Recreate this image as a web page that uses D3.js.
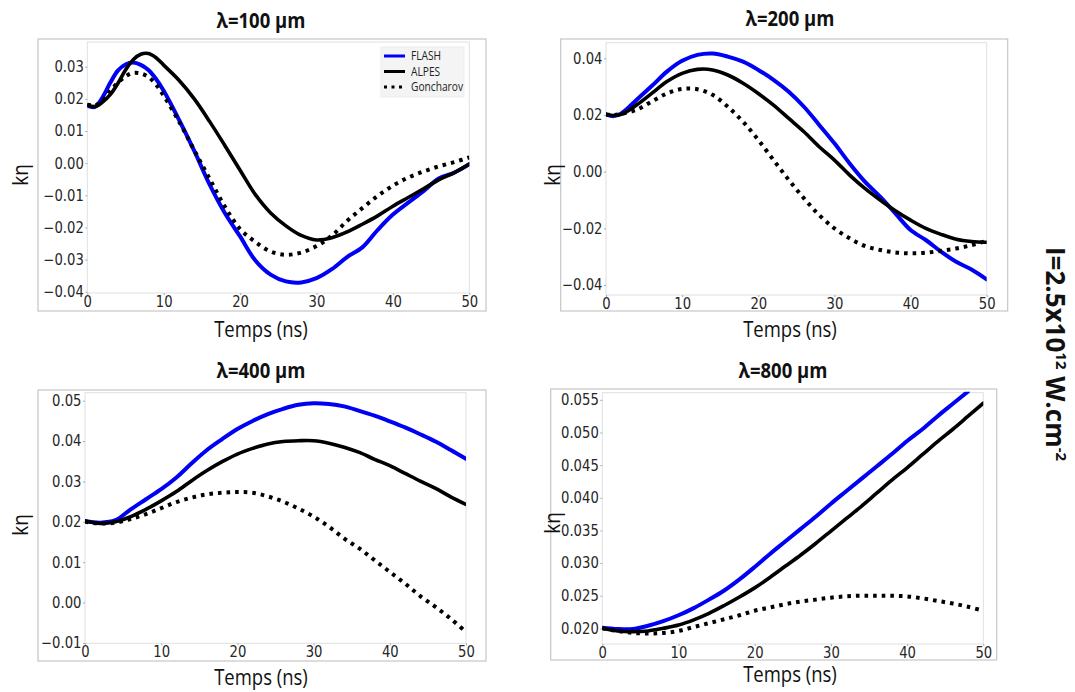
<!DOCTYPE html>
<html><head><meta charset="utf-8">
<script src="https://cdn.jsdelivr.net/npm/d3@7/dist/d3.min.js"></script>
<style>
body{margin:0;background:#fff;}
svg{display:block;}
</style></head>
<body>
<svg id="chart" width="1075" height="692"></svg>
<script>
// ---------- data ----------
const seriesNames = ["FLASH", "ALPES", "Goncharov"];
const xTicks = [0, 10, 20, 30, 40, 50];

const t100 = [0,1,2,3,4,5,6,7,8,9,10,12,14,16,18,20,22,24,26,28,30,32,34,36,38,40,42,44,46,48,50];
const flash100 = [0.0179,0.0175,0.0205,0.0250,0.0288,0.0307,0.0313,0.0306,0.0290,0.0262,0.0225,0.0135,0.0038,-0.0066,-0.0155,-0.0228,-0.0303,-0.0347,-0.0368,-0.0371,-0.0358,-0.0330,-0.0292,-0.0262,-0.0208,-0.0160,-0.0123,-0.0087,-0.0048,-0.0030,-0.0003];
const alpes100 = [0.0181,0.0176,0.0190,0.0213,0.0248,0.0290,0.0322,0.0339,0.0341,0.0328,0.0305,0.0258,0.0200,0.0130,0.0055,-0.0022,-0.0098,-0.0155,-0.0195,-0.0225,-0.0239,-0.0232,-0.0214,-0.0190,-0.0164,-0.0134,-0.0107,-0.0080,-0.0052,-0.0030,-0.0003];
const gonch100 = [0.0182,0.0180,0.0195,0.0225,0.0250,0.0270,0.0281,0.0279,0.0268,0.0244,0.0210,0.0130,0.0040,-0.0048,-0.0135,-0.0205,-0.0245,-0.0275,-0.0285,-0.0278,-0.0258,-0.0226,-0.0180,-0.0140,-0.0102,-0.0070,-0.0045,-0.0026,-0.0010,0.0003,0.0018];
const yTicks100 = [0.03,0.02,0.01,0.00,-0.01,-0.02,-0.03,-0.04];

const t200 = [0,1,2,4,6,8,10,12,14,16,18,20,22,24,26,28,30,32,34,36,38,40,42,44,46,48,50];
const flash200 = [0.0202,0.0196,0.0205,0.0253,0.0302,0.0353,0.0391,0.0412,0.0417,0.0406,0.0388,0.0359,0.0324,0.0282,0.0229,0.0165,0.0100,0.0029,-0.0035,-0.0088,-0.0147,-0.0206,-0.0241,-0.0282,-0.0318,-0.0345,-0.0380];
const alpes200 = [0.0202,0.0198,0.0202,0.0235,0.0276,0.0318,0.0347,0.0361,0.0359,0.0341,0.0312,0.0276,0.0235,0.0188,0.0141,0.0088,0.0041,-0.0012,-0.0059,-0.0100,-0.0138,-0.0171,-0.0200,-0.0221,-0.0238,-0.0246,-0.0249];
const gonch200 = [0.0202,0.0200,0.0204,0.0218,0.0247,0.0276,0.0292,0.0291,0.0271,0.0229,0.0176,0.0112,0.0041,-0.0029,-0.0094,-0.0153,-0.0200,-0.0235,-0.0262,-0.0276,-0.0285,-0.0288,-0.0286,-0.0279,-0.0271,-0.0259,-0.0244];
const yTicks200 = [0.04,0.02,0.00,-0.02,-0.04];

const t400 = [0,2,4,6,8,10,12,14,16,18,20,22,24,26,28,30,32,34,36,38,40,42,44,46,48,50];
const flash400 = [0.0202,0.0198,0.0204,0.0231,0.0256,0.0281,0.0310,0.0345,0.0378,0.0405,0.0430,0.0450,0.0467,0.0480,0.0490,0.0494,0.0492,0.0486,0.0475,0.0463,0.0449,0.0434,0.0417,0.0399,0.0378,0.0356];
const alpes400 = [0.0202,0.0196,0.0200,0.0213,0.0231,0.0252,0.0275,0.0302,0.0327,0.0349,0.0368,0.0382,0.0393,0.0399,0.0401,0.0401,0.0395,0.0385,0.0372,0.0355,0.0339,0.0320,0.0301,0.0283,0.0262,0.0243];
const gonch400 = [0.0200,0.0196,0.0198,0.0207,0.0219,0.0234,0.0249,0.0260,0.0268,0.0272,0.0274,0.0272,0.0263,0.0250,0.0233,0.0213,0.0188,0.0159,0.0134,0.0105,0.0076,0.0047,0.0016,-0.0011,-0.0040,-0.0073];
const yTicks400 = [0.05,0.04,0.03,0.02,0.01,0.00,-0.01];

const t800 = [0,2,4,6,8,10,12,14,16,18,20,22,24,26,28,30,32,34,36,38,40,42,44,46,48,50];
const flash800 = [0.0201,0.0199,0.0199,0.0204,0.0211,0.0220,0.0231,0.0244,0.0258,0.0275,0.0294,0.0314,0.0333,0.0352,0.0371,0.0391,0.0410,0.0429,0.0448,0.0467,0.0487,0.0505,0.0525,0.0544,0.0563,null];
const alpes800 = [0.0200,0.0196,0.0195,0.0196,0.0200,0.0205,0.0213,0.0223,0.0235,0.0248,0.0262,0.0278,0.0295,0.0312,0.0330,0.0349,0.0368,0.0387,0.0407,0.0427,0.0446,0.0466,0.0486,0.0505,0.0525,0.0545];
const gonch800 = [0.0200,0.0196,0.0193,0.0192,0.0193,0.0196,0.0202,0.0208,0.0214,0.0220,0.0227,0.0232,0.0237,0.0241,0.0244,0.0247,0.0249,0.0250,0.0250,0.0250,0.0249,0.0246,0.0242,0.0238,0.0233,0.0227];
const yTicks800 = [0.055,0.050,0.045,0.040,0.035,0.030,0.025,0.020];

const titles = ["λ=100 µm", "λ=200 µm", "λ=400 µm", "λ=800 µm"];

// ---------- layout ----------
const panels = [
  {title: titles[0], t: t100, s: [flash100, alpes100, gonch100], yt: yTicks100, fmt: ".2f",
   frame: [38, 39, 486, 311], px: [87.3, 469.3], py: [42, 293], ydom: [0.0377, -0.0404],
   titlePos: [261, 28], xlabPos: [261, 337], ylabPos: [20, 175], legend: true},
  {title: titles[1], t: t200, s: [flash200, alpes200, gonch200], yt: yTicks200, fmt: ".2f",
   frame: [560.7, 39, 1007.7, 311], px: [606, 986.7], py: [42.7, 295], ydom: [0.0455, -0.0435],
   titlePos: [790, 26], xlabPos: [790, 337], ylabPos: [552, 175]},
  {title: titles[2], t: t400, s: [flash400, alpes400, gonch400], yt: yTicks400, fmt: ".2f",
   frame: [38, 390, 486, 661], px: [85, 466], py: [392.7, 643.3], ydom: [0.0520, -0.0101],
   titlePos: [261, 378], xlabPos: [261, 685], ylabPos: [20, 525]},
  {title: titles[3], t: t800, s: [flash800, alpes800, gonch800], yt: yTicks800, fmt: ".3f",
   frame: [550.7, 389, 996.7, 660], px: [602.3, 983.3], py: [392.7, 644], ydom: [0.0561, 0.0176],
   titlePos: [783, 378], xlabPos: [790, 682], ylabPos: [552, 523]}
];

const colors = ["#0000f5", "#000000", "#000000"];
const widths = [4, 3.6, 4];
const dashes = [null, null, "3.6,5"];
const vStretch = 1.15;

const svg = d3.select("#chart");

panels.forEach((p, i) => {
  const g = svg.append("g");
  const [fx0, fy0, fx1, fy1] = p.frame;
  g.append("rect").attr("x", fx0).attr("y", fy0).attr("width", fx1 - fx0).attr("height", fy1 - fy0)
    .attr("fill", "#fff").attr("stroke", "#c6c6c6").attr("stroke-width", 1.2);

  const x = d3.scaleLinear().domain([0, 50]).range(p.px);
  const y = d3.scaleLinear().domain(p.ydom).range(p.py);

  // spines
  g.append("rect").attr("x", p.px[0]).attr("y", p.py[0])
    .attr("width", p.px[1] - p.px[0]).attr("height", p.py[1] - p.py[0])
    .attr("fill", "none").attr("stroke", "#e0e0e0").attr("stroke-width", 1);

  const yAxis = g.append("g").attr("transform", `translate(${p.px[0]},0)`)
    .call(d3.axisLeft(y).tickValues(p.yt).tickFormat(d3.format(p.fmt)).tickSize(2).tickPadding(1.5));
  const xAxis = g.append("g").attr("transform", `translate(0,${p.py[1]})`)
    .call(d3.axisBottom(x).tickValues(xTicks).tickFormat(d3.format("d")).tickSize(2).tickPadding(0.5));
  [yAxis, xAxis].forEach(a => {
    a.select(".domain").remove();
    a.selectAll(".tick line").attr("stroke", "#aaa");
    a.selectAll(".tick text").attr("fill", "#262626")
      .attr("transform", `scale(1,${vStretch})`)
      .style("font-family", "'DejaVu Sans', sans-serif").style("font-size", "13.2px");
  });

  const clipId = "clip" + i;
  g.append("clipPath").attr("id", clipId).append("rect")
    .attr("x", p.px[0]).attr("y", p.py[0] - 1).attr("width", p.px[1] - p.px[0]).attr("height", p.py[1] - p.py[0] + 2);

  const line = d3.line().defined(d => d[1] !== null)
    .x(d => x(d[0])).y(d => y(d[1])).curve(d3.curveCatmullRom.alpha(0.5));
  const cg = g.append("g").attr("clip-path", `url(#${clipId})`);
  p.s.forEach((vals, k) => {
    const pts = p.t.map((tv, j) => [tv, vals[j]]);
    const path = cg.append("path").datum(pts).attr("d", line)
      .attr("fill", "none").attr("stroke", colors[k]).attr("stroke-width", widths[k])
      .attr("stroke-linejoin", "round");
    if (dashes[k]) path.attr("stroke-dasharray", dashes[k]).attr("stroke-linecap", "butt");
    else path.attr("stroke-linecap", "round");
  });

  // titles
  g.append("text").attr("transform", `translate(${p.titlePos[0]},${p.titlePos[1]}) scale(1,${vStretch})`)
    .attr("text-anchor", "middle")
    .style("font-family", "'Open Sans', sans-serif").style("font-weight", "bold").style("font-size", "18.5px")
    .attr("fill", "#111").text(p.title);
  g.append("text").attr("transform", `translate(${p.xlabPos[0]},${p.xlabPos[1]}) scale(1,${vStretch})`)
    .attr("text-anchor", "middle")
    .style("font-family", "'Open Sans', sans-serif").style("font-size", "18.5px")
    .attr("fill", "#111").text("Temps (ns)");
  g.append("text").attr("transform", `translate(${p.ylabPos[0]},${p.ylabPos[1]}) rotate(-90) scale(1,${vStretch})`)
    .attr("text-anchor", "middle").attr("dy", "0.35em")
    .style("font-family", "'Open Sans', sans-serif").style("font-size", "19px")
    .attr("fill", "#111").text("kη");

  if (p.legend) {
    const lg = g.append("g");
    lg.append("rect").attr("x", 381).attr("y", 47).attr("width", 83).attr("height", 50)
      .attr("fill", "#f4f4f4").attr("stroke", "#ececec");
    seriesNames.forEach((name, k) => {
      const ly = 56 + k * 15.5;
      const l = lg.append("line").attr("x1", 384).attr("x2", 405).attr("y1", ly).attr("y2", ly)
        .attr("stroke", colors[k]).attr("stroke-width", 3);
      if (dashes[k]) l.attr("stroke-dasharray", "3,4.5");
      lg.append("text").attr("transform", `translate(411,${ly}) scale(1,${vStretch})`).attr("dy", "0.35em")
        .style("font-family", "'Open Sans', sans-serif").style("font-size", "10.2px")
        .attr("fill", "#222").text(name);
    });
  }
});

// side label
const side = svg.append("text").attr("transform", "translate(1046,354) rotate(90)")
  .attr("text-anchor", "middle")
  .style("font-family", "'Open Sans', sans-serif").style("font-weight", "bold").style("font-size", "26px")
  .attr("fill", "#111");
side.append("tspan").text("I=2.5x10");
side.append("tspan").attr("dy", "-10").style("font-size", "15px").text("12");
side.append("tspan").attr("dy", "10").text(" W.cm");
side.append("tspan").attr("dy", "-10").style("font-size", "15px").text("-2");
</script>
</body></html>
